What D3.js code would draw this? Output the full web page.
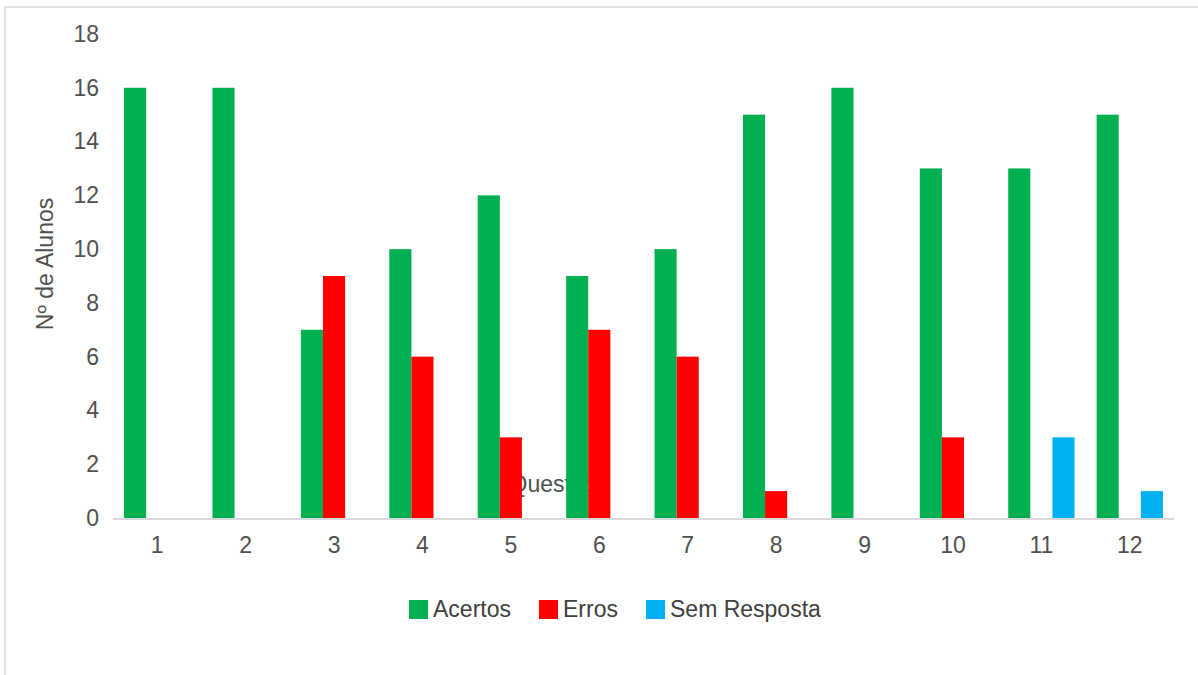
<!DOCTYPE html>
<html><head><meta charset="utf-8">
<script src="https://cdn.jsdelivr.net/npm/d3@7"></script>
<style>body{margin:0;background:#fff;} svg{display:block;font-family:"Liberation Sans",Arial,sans-serif;}</style>
</head><body>
<svg id="c" width="1198" height="675"></svg>
<script>
const categories = ["1","2","3","4","5","6","7","8","9","10","11","12"];
const seriesNames = ["Acertos","Erros","Sem Resposta"];
const acertos = [16,16,7,10,12,9,10,15,16,13,13,15];
const erros = [0,0,9,6,3,7,6,1,0,3,0,0];
const semResposta = [0,0,0,0,0,0,0,0,0,0,3,1];
const yTicks = [0,2,4,6,8,10,12,14,16,18];
const colors = ["#00b050","#ff0000","#00b0f0"];

const values = [acertos, erros, semResposta];
const data = categories.map((c,i)=>({cat:c, vals: values.map((v,k)=>({k, v:v[i]}))}));

const svg = d3.select("#c");
// outer border
svg.append("rect").attr("x",5).attr("y",7).attr("width",1200).attr("height",680)
  .attr("fill","#fff").attr("stroke","#e3e3e3").attr("stroke-width",2);

const x0 = d3.scaleBand().domain(categories).range([113,1174]).paddingInner(0.25).paddingOuter(0.125);
const x1 = d3.scaleBand().domain(d3.range(3)).range([0,x0.bandwidth()]);
const y = d3.scaleLinear().domain([0,18]).range([518,34]);

const textColor = "#505050";
const fs = 23;
// y tick labels
const yAxis = svg.append("g").attr("transform","translate(99,0)")
  .call(d3.axisLeft(y).tickValues(yTicks).tickSize(0).tickPadding(0));
yAxis.select(".domain").remove();
yAxis.selectAll("text").attr("fill",textColor).attr("font-size",fs).attr("font-family","Liberation Sans, Arial, sans-serif");

// x axis title (drawn beneath bars)
svg.append("text").attr("x",553).attr("y",492).attr("text-anchor","middle")
  .attr("font-size",fs).attr("fill",textColor).text("Questão");

// bars
const g = svg.append("g");
g.selectAll("g.grp").data(data).join("g").attr("class","grp")
  .attr("transform",d=>`translate(${x0(d.cat)},0)`)
  .selectAll("rect").data(d=>d.vals.filter(e=>e.v>0)).join("rect")
  .attr("x",d=>x1(d.k)).attr("width",x1.bandwidth())
  .attr("y",d=>y(d.v)).attr("height",d=>y(0)-y(d.v))
  .attr("fill",d=>colors[d.k]);

// baseline
svg.append("line").attr("x1",113).attr("x2",1174).attr("y1",y(0)+1).attr("y2",y(0)+1)
  .attr("stroke","#d9d9d9").attr("stroke-width",2);

// x tick labels
const xAxis = svg.append("g").attr("transform",`translate(0,${y(0)})`)
  .call(d3.axisBottom(x0).tickSize(0).tickPadding(19));
xAxis.select(".domain").remove();
xAxis.selectAll("text").attr("fill",textColor).attr("font-size",fs).attr("font-family","Liberation Sans, Arial, sans-serif");

// y axis title
svg.append("text").attr("transform","translate(53,264) rotate(-90)").attr("text-anchor","middle")
  .attr("font-size",fs).attr("fill",textColor).text("Nº de Alunos");

// legend
const legX = [409, 539, 646];
const leg = svg.append("g");
seriesNames.forEach((n,i)=>{
  leg.append("rect").attr("x",legX[i]).attr("y",600).attr("width",19).attr("height",19).attr("fill",colors[i]);
  leg.append("text").attr("x",legX[i]+24).attr("y",617).attr("font-size",fs).attr("fill","#404040").text(n);
});
</script>
</body></html>
